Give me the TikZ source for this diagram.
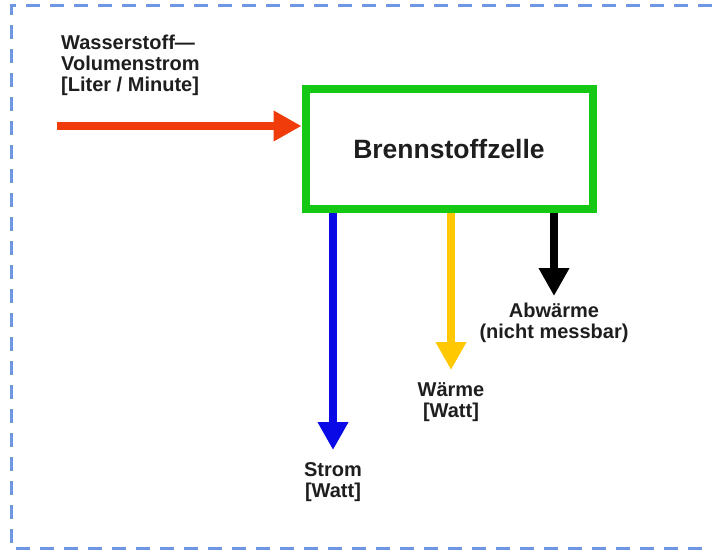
\documentclass[tikz,border=0pt]{standalone}
\usepackage{fontspec}
\setmainfont{Liberation Sans}
\usetikzlibrary{arrows.meta}
\definecolor{frameblue}{RGB}{110,150,225}
\definecolor{hred}{RGB}{240,60,10}
\definecolor{fcgreen}{RGB}{20,200,20}
\definecolor{elblue}{RGB}{10,10,230}
\definecolor{heatyellow}{RGB}{255,200,0}
\definecolor{txt}{RGB}{30,30,30}
\begin{document}
\begin{tikzpicture}[x=1pt,y=-1pt,
    flow/.style={line width=8.5pt,-{Triangle[width=29pt,length=28pt]}},
    lbl/.style={inner sep=0pt,align=center,text=txt,font=\fontsize{20}{21}\selectfont\bfseries}]

\useasboundingbox (0,0) rectangle (712,551);

% Dashed frame (right side cut off)
\draw[frameblue,line width=3pt,dash pattern=on 14pt off 10pt]
    (712,6) -- (11,6) -- (11,548) -- (712,548);

% Fuel cell
\node[draw=fcgreen,line width=8pt,minimum width=287pt,minimum height=120pt,inner sep=0pt,
      text=txt,font=\fontsize{26.5}{28}\selectfont\bfseries] (fc) at (449,149) {Brennstoffzelle};

% Hydrogen input
\node[lbl,align=left,anchor=north west] (h2) at (61,35) {Wasserstoff—\\Volumenstrom\\{[Liter / Minute]}};
\coordinate (h2in) at (57,126);
\draw[flow,hred] (h2in) -- (h2in -| fc.west);

% Outputs
\node[lbl,anchor=north] (strom) at (333,462) {Strom\\{[Watt]}};
\node[lbl,anchor=north] (waerme) at (451,382) {Wärme\\{[Watt]}};
\node[lbl,anchor=north] (abw) at (554,303) {Abwärme\\(nicht messbar)};

\draw[flow,elblue,shorten >=12pt] (fc.south -| strom.north) -- (strom.north);
\draw[flow,heatyellow,shorten >=12pt] (fc.south -| waerme.north) -- (waerme.north);
\draw[flow,black,shorten >=7pt] (fc.south -| abw.north) -- (abw.north);

\end{tikzpicture}
\end{document}
